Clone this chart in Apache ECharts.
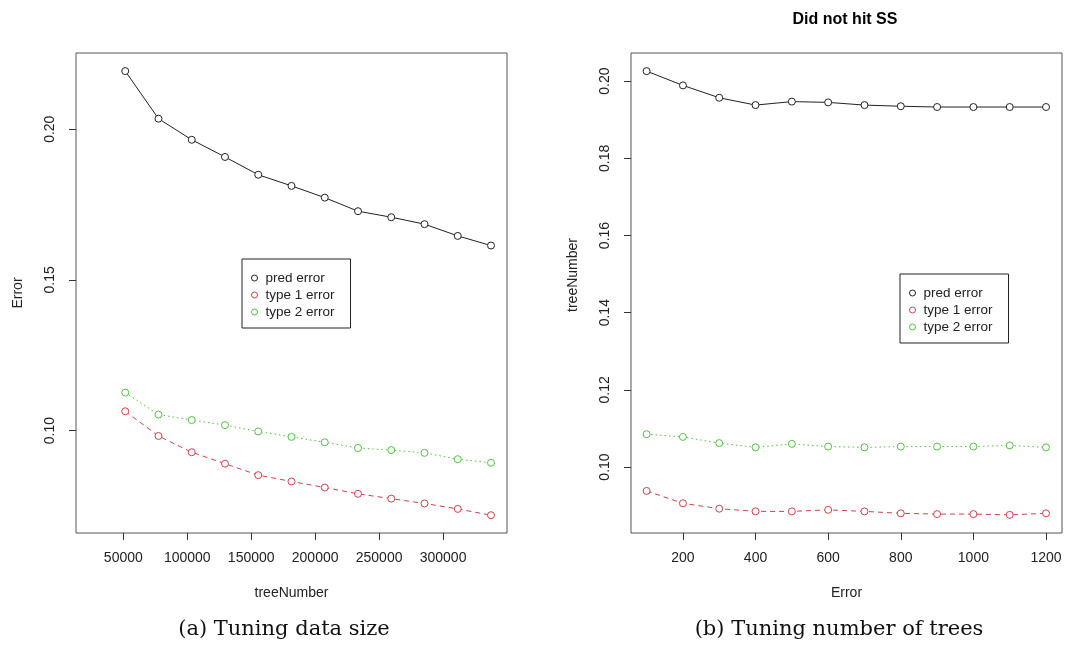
<!DOCTYPE html>
<html>
<head>
<meta charset="utf-8">
<script src="https://cdn.jsdelivr.net/npm/echarts@6/dist/echarts.min.js"></script>
<style>
  html, body { margin: 0; padding: 0; background: #fff; }
  #myChart { width: 1081px; height: 646px; }
</style>
</head>
<body>
<div id="myChart"></div>
<script>
// (a) tuning data size
const sizeX = [51500, 77500, 103500, 129500, 155500, 181500, 207500, 233500, 259500, 285500, 311500, 337500]
const sizePred = [0.2193, 0.2035, 0.1965, 0.1908, 0.1849, 0.1812, 0.1773, 0.1728, 0.1708, 0.1685, 0.1646, 0.1614]
const sizeType1 = [0.1064, 0.0982, 0.0928, 0.0890, 0.0852, 0.0831, 0.0811, 0.0790, 0.0774, 0.0758, 0.0740, 0.0719]
const sizeType2 = [0.1126, 0.1053, 0.1035, 0.1018, 0.0997, 0.0979, 0.0961, 0.0942, 0.0935, 0.0926, 0.0905, 0.0893]
const sizeXTicks = [50000, 100000, 150000, 200000, 250000, 300000]
const sizeYTicks = [0.10, 0.15, 0.20]

// (b) tuning number of trees
const treeX = [100, 200, 300, 400, 500, 600, 700, 800, 900, 1000, 1100, 1200]
const treePred = [0.2026, 0.1989, 0.1957, 0.1938, 0.1947, 0.1945, 0.1938, 0.1935, 0.1933, 0.1933, 0.1933, 0.1933]
const treeType1 = [0.0938, 0.0906, 0.0892, 0.0885, 0.0885, 0.0889, 0.0885, 0.0880, 0.0878, 0.0878, 0.0876, 0.0880]
const treeType2 = [0.1085, 0.1078, 0.1062, 0.1051, 0.1060, 0.1053, 0.1051, 0.1053, 0.1053, 0.1053, 0.1056, 0.1051]
const treeXTicks = [200, 400, 600, 800, 1000, 1200]
const treeYTicks = [0.10, 0.12, 0.14, 0.16, 0.18, 0.20]

const seriesNames = ['pred error', 'type 1 error', 'type 2 error']
const colors = ['#222222', '#cf3f4c', '#55c046']
const dashes = ['solid', [5, 4], [1.5, 3]]

const sansFont = 'Liberation Sans, Arial, sans-serif'
const serifFont = 'DejaVu Serif, serif'

function pairs (xs, ys) {
  return xs.map((x, i) => [x, ys[i]])
}

function makeXAxis (grid, min, max, ticks, name) {
  return {
    type: 'value',
    gridIndex: grid,
    min: min,
    max: max,
    name: name,
    nameLocation: 'middle',
    nameGap: 53,
    nameTextStyle: { color: '#222', fontFamily: sansFont, fontSize: 14 },
    axisLine: { show: false },
    axisTick: { show: true, length: 7, customValues: ticks, lineStyle: { color: '#333' } },
    axisLabel: {
      customValues: ticks,
      margin: 18,
      color: '#222',
      fontFamily: sansFont,
      fontSize: 14,
      formatter: v => String(v)
    },
    splitLine: { show: false }
  }
}

function makeYAxis (grid, min, max, ticks, name, namePad) {
  return {
    type: 'value',
    gridIndex: grid,
    min: min,
    max: max,
    name: name,
    nameLocation: 'middle',
    nameGap: 51,
    nameTextStyle: { color: '#222', fontFamily: sansFont, fontSize: 14, padding: namePad },
    axisLine: { show: false },
    axisTick: { show: true, length: 7, customValues: ticks, lineStyle: { color: '#333' } },
    axisLabel: {
      customValues: ticks,
      rotate: 90,
      margin: 19,
      color: '#222',
      fontFamily: sansFont,
      fontSize: 14,
      formatter: v => v.toFixed(2)
    },
    splitLine: { show: false }
  }
}

function makeSeries (grid, xs, ysList) {
  return ysList.map((ys, i) => ({
    name: seriesNames[i],
    type: 'line',
    xAxisIndex: grid,
    yAxisIndex: grid,
    symbol: 'circle',
    symbolSize: 7,
    showSymbol: true,
    color: colors[i],
    itemStyle: { color: '#fff', borderColor: colors[i], borderWidth: 1 },
    lineStyle: { width: 1, type: dashes[i], color: colors[i] },
    data: pairs(xs, ys)
  }))
}

function makeLegend (left, top) {
  return {
    orient: 'vertical',
    left: left,
    top: top,
    data: seriesNames.map((n, i) => ({
      name: n,
      icon: 'circle',
      itemStyle: { color: '#fff', borderColor: colors[i], borderWidth: 1 }
    })),
    itemWidth: 6,
    itemHeight: 6,
    itemGap: 3,
    padding: [12, 16, 9, 9],
    borderColor: '#222',
    borderWidth: 1,
    borderRadius: 0,
    selectedMode: false,
    textStyle: { color: '#222', fontFamily: sansFont, fontSize: 13.5, lineHeight: 14, padding: [0, 0, 0, 3] }
  }
}

var myChart = echarts.init(document.getElementById('myChart'))
myChart.setOption({
  animation: false,
  backgroundColor: '#fff',
  title: [
    {
      text: 'Did not hit SS',
      left: 845,
      top: 12,
      textAlign: 'center',
      padding: 0,
      textStyle: { color: '#000', fontFamily: sansFont, fontSize: 16, fontWeight: 'bold' }
    },
    {
      text: '(a) Tuning data size',
      left: 284,
      top: 619,
      textAlign: 'center',
      padding: 0,
      textStyle: { color: '#111', fontFamily: serifFont, fontSize: 21, fontWeight: 'normal' }
    },
    {
      text: '(b) Tuning number of trees',
      left: 839,
      top: 619,
      textAlign: 'center',
      padding: 0,
      textStyle: { color: '#111', fontFamily: serifFont, fontSize: 21, fontWeight: 'normal' }
    }
  ],
  grid: [
    { left: 76, top: 53, width: 431, height: 480, show: true, borderColor: '#555', borderWidth: 1, backgroundColor: 'transparent' },
    { left: 631, top: 53, width: 431, height: 480, show: true, borderColor: '#555', borderWidth: 1, backgroundColor: 'transparent' }
  ],
  xAxis: [
    makeXAxis(0, 13000, 350000, sizeXTicks, 'treeNumber'),
    makeXAxis(1, 57, 1244, treeXTicks, 'Error')
  ],
  yAxis: [
    makeYAxis(0, 0.066, 0.2253, sizeYTicks, 'Error', 0),
    makeYAxis(1, 0.0829, 0.2073, treeYTicks, 'treeNumber', [0, 0, 0, 36])
  ],
  legend: [
    makeLegend(242, 259),
    makeLegend(900, 274)
  ],
  series: [].concat(
    makeSeries(0, sizeX, [sizePred, sizeType1, sizeType2]),
    makeSeries(1, treeX, [treePred, treeType1, treeType2])
  )
})
</script>
</body>
</html>
